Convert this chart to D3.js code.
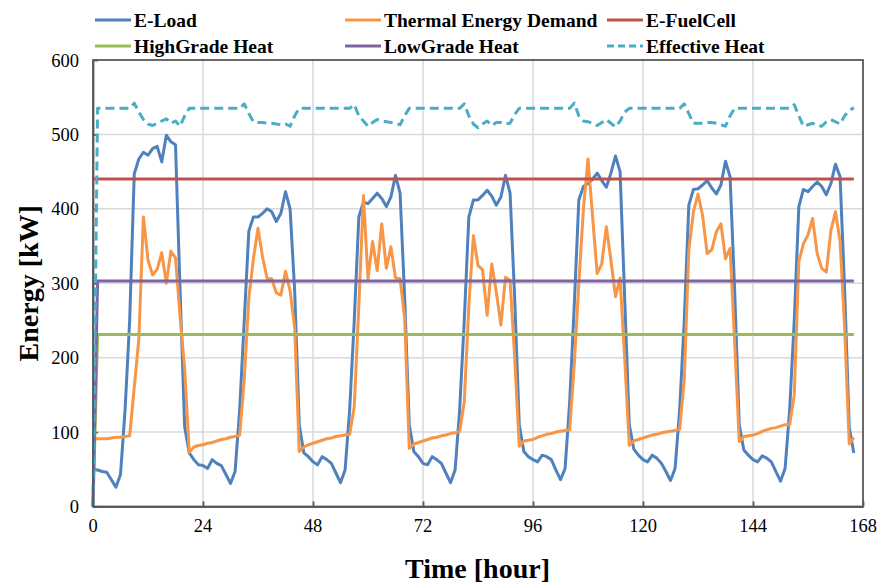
<!DOCTYPE html>
<html>
<head>
<meta charset="utf-8">
<script src="https://cdn.jsdelivr.net/npm/d3@7"></script>
<style>
  body { margin: 0; background: #fff; }
  svg { display: block; font-family: "Liberation Serif", "Times New Roman", serif; }
</style>
</head>
<body>
<script>
// hourly values, t = 0 .. 166
var eLoad = [
  50, 49, 47, 46, 36, 26, 43, 130, 250, 447, 467, 476, 472, 481, 484, 463, 499, 490, 486, 290, 107, 72, 63, 56,
  55, 51, 63, 58, 55, 43, 31, 47, 130, 250, 370, 389, 389, 394, 400, 396, 383, 394, 423, 400, 290, 110, 72, 67,
  60, 56, 67, 63, 58, 45, 32, 49, 130, 250, 389, 409, 407, 414, 421, 414, 403, 416, 445, 421, 280, 110, 74, 67,
  58, 56, 67, 63, 58, 45, 32, 49, 130, 250, 389, 412, 412, 418, 425, 417, 405, 416, 445, 421, 280, 110, 74, 67,
  63, 60, 69, 67, 63, 49, 36, 51, 140, 270, 412, 430, 434, 440, 448, 438, 429, 448, 471, 450, 280, 110, 77, 69,
  63, 60, 69, 65, 58, 47, 35, 51, 130, 250, 405, 426, 427, 432, 438, 428, 420, 432, 464, 443, 290, 110, 76, 69,
  63, 60, 68, 65, 60, 47, 34, 51, 130, 250, 403, 426, 423, 430, 436, 430, 419, 434, 460, 443, 290, 106, 72
];
var thermal = [
  91, 91, 91, 91, 92, 93, 93, 94, 95, 160, 225, 389, 331, 311, 319, 341, 300, 343, 334, 255, 185, 73, 80, 82,
  83, 85, 86, 88, 90, 91, 93, 94, 96, 170, 280, 333, 374, 335, 306, 306, 287, 284, 316, 290, 240, 74, 80, 83,
  85, 87, 89, 91, 92, 94, 95, 96, 97, 134, 270, 418, 306, 356, 317, 380, 320, 349, 307, 306, 253, 78, 84, 86,
  88, 90, 92, 93, 95, 96, 98, 99, 101, 140, 270, 364, 324, 318, 257, 326, 288, 244, 308, 304, 200, 81, 88, 89,
  90, 93, 95, 97, 98, 100, 101, 102, 103, 190, 300, 400, 467, 390, 313, 326, 376, 331, 282, 307, 200, 82, 88, 90,
  92, 94, 96, 97, 99, 100, 101, 102, 104, 170, 345, 396, 420, 391, 340, 345, 369, 380, 333, 347, 220, 87, 94, 95,
  96, 98, 101, 103, 105, 106, 108, 110, 110, 150, 329, 353, 365, 387, 340, 320, 315, 371, 396, 356, 240, 84, 93
];
var effHeat = [
  0, 535, 535, 535, 535, 535, 535, 535, 535, 542, 530, 520, 514, 512, 515, 518, 521, 515, 518, 511, 525, 535, 535, 535,
  535, 535, 535, 535, 535, 535, 535, 535, 535, 541, 528, 517, 516, 516, 515, 515, 514, 513, 514, 511, 525, 535, 535, 535,
  535, 535, 535, 535, 535, 535, 535, 535, 535, 540, 525, 518, 511, 516, 520, 518, 517, 516, 515, 513, 525, 535, 535, 535,
  535, 535, 535, 535, 535, 535, 535, 535, 535, 541, 525, 514, 509, 514, 518, 512, 516, 516, 514, 515, 527, 535, 535, 535,
  535, 535, 535, 535, 535, 535, 535, 535, 535, 542, 525, 518, 517, 515, 512, 516, 520, 515, 510, 518, 530, 535, 535, 535,
  535, 535, 535, 535, 535, 535, 535, 535, 535, 541, 528, 515, 515, 515, 516, 516, 515, 513, 511, 525, 535, 535, 535, 535,
  535, 535, 535, 535, 535, 535, 535, 535, 535, 540, 525, 511, 513, 515, 512, 511, 517, 520, 517, 514, 525, 532, 536
];
// flat series as [hour, kW] points
var fuelCell = [[0, 440], [166, 440]];
var highGrade = [[0, 0], [1, 231], [166, 231]];
var lowGrade = [[0, 0], [1, 303], [166, 303]];

var xTicks = [0, 24, 48, 72, 96, 120, 144, 168];
var yTicks = [0, 100, 200, 300, 400, 500, 600];

var width = 881, height = 583,
	pLeft = 93, pRight = 863, pTop = 60, pBottom = 506.5;

var hourly = function(arr) { return arr.map(function(v, i) { return [i, v]; }); };

var series = [
	{ name: 'E-Load', color: '#4F81BD', data: hourly(eLoad) },
	{ name: 'Thermal Energy Demand', color: '#F79646', data: hourly(thermal) },
	{ name: 'E-FuelCell', color: '#C0504D', data: fuelCell },
	{ name: 'HighGrade Heat', color: '#9BBB59', data: highGrade },
	{ name: 'LowGrade Heat', color: '#8064A2', data: lowGrade },
	{ name: 'Effective Heat', color: '#4BACC6', data: hourly(effHeat), dash: '9,5' }
];

var x = d3.scaleLinear().domain([0, 168]).range([pLeft, pRight]);
var y = d3.scaleLinear().domain([0, 600]).range([pBottom, pTop]);

var svg = d3.select('body').append('svg')
	.attr('width', width)
	.attr('height', height);

// grid
svg.append('g').selectAll('line')
	.data(xTicks.slice(1, -1)).enter().append('line')
	.attr('x1', function(d) { return x(d); }).attr('x2', function(d) { return x(d); })
	.attr('y1', pTop).attr('y2', pBottom)
	.attr('stroke', '#D9D9D9').attr('stroke-width', 1.5);
svg.append('g').selectAll('line')
	.data(yTicks.slice(1, -1)).enter().append('line')
	.attr('y1', function(d) { return y(d); }).attr('y2', function(d) { return y(d); })
	.attr('x1', pLeft).attr('x2', pRight)
	.attr('stroke', '#D9D9D9').attr('stroke-width', 1.5);

// axes (ticks point inward, labels drawn separately)
svg.append('g')
	.attr('transform', 'translate(0,' + pBottom + ')')
	.call(d3.axisBottom(x).tickValues(xTicks).tickSizeInner(-5).tickSizeOuter(0).tickFormat(''));
svg.append('g')
	.attr('transform', 'translate(' + pLeft + ',0)')
	.call(d3.axisLeft(y).tickValues(yTicks).tickSizeInner(-5).tickSizeOuter(0).tickFormat(''));
svg.selectAll('.domain, .tick line').attr('stroke', '#595959').attr('stroke-width', 1.8);

svg.append('g').selectAll('text')
	.data(xTicks).enter().append('text')
	.attr('x', function(d) { return x(d); })
	.attr('y', 532)
	.attr('text-anchor', 'middle')
	.attr('font-size', 18.5)
	.text(function(d) { return d; });
svg.append('g').selectAll('text')
	.data(yTicks).enter().append('text')
	.attr('x', 79)
	.attr('y', function(d) { return y(d) + 6.5; })
	.attr('text-anchor', 'end')
	.attr('font-size', 18.5)
	.text(function(d) { return d; });

// series
var line = d3.line()
	.x(function(d) { return x(d[0]); })
	.y(function(d) { return y(d[1]); });

svg.append('g').selectAll('path')
	.data(series).enter().append('path')
	.attr('d', function(d) { return line(d.data); })
	.attr('fill', 'none')
	.attr('stroke', function(d) { return d.color; })
	.attr('stroke-width', 3)
	.attr('stroke-linejoin', 'round')
	.attr('stroke-dasharray', function(d) { return d.dash || null; });

// frame
svg.append('rect')
	.attr('x', pLeft).attr('y', pTop)
	.attr('width', pRight - pLeft).attr('height', pBottom - pTop)
	.attr('fill', 'none').attr('stroke', '#595959').attr('stroke-width', 1.8);

// titles
svg.append('text')
	.attr('transform', 'translate(38,' + ((pTop + pBottom) / 2) + ') rotate(-90)')
	.attr('text-anchor', 'middle')
	.attr('font-size', 28).attr('font-weight', 'bold')
	.text('Energy [kW]');
svg.append('text')
	.attr('x', (pLeft + pRight) / 2 - 0.5)
	.attr('y', 578)
	.attr('text-anchor', 'middle')
	.attr('font-size', 28).attr('font-weight', 'bold')
	.text('Time [hour]');

// legend
var legX = [95, 345, 607], legY = [20, 46];
var leg = svg.append('g').selectAll('g')
	.data(series).enter().append('g')
	.attr('transform', function(d, i) { return 'translate(' + legX[i % 3] + ',' + legY[Math.floor(i / 3)] + ')'; });
leg.append('line')
	.attr('x1', 0).attr('x2', 36)
	.attr('stroke', function(d) { return d.color; })
	.attr('stroke-width', 3)
	.attr('stroke-dasharray', function(d) { return d.dash ? '7,4' : null; });
leg.append('text')
	.attr('x', 39).attr('y', 6.5)
	.attr('font-size', 19.5).attr('font-weight', 'bold')
	.text(function(d) { return d.name; });
</script>
</body>
</html>
